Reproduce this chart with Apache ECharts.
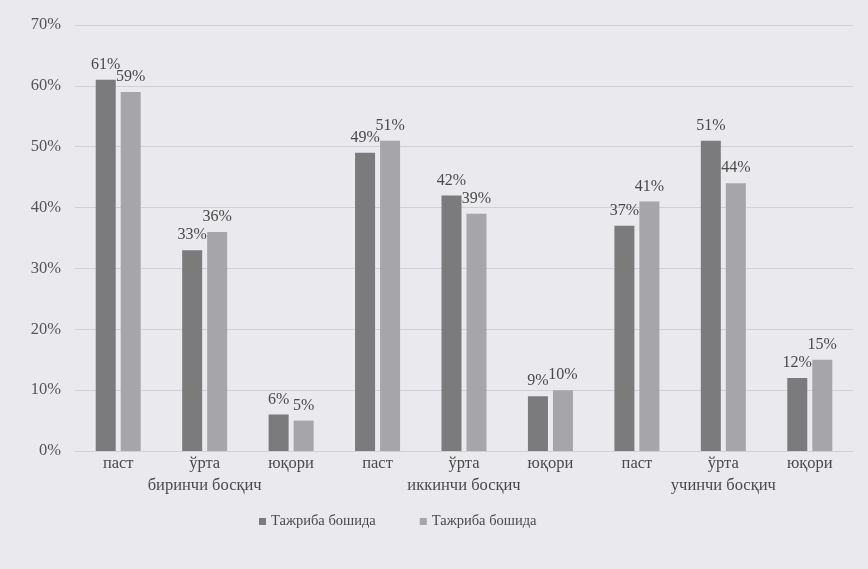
<!DOCTYPE html>
<html><head><meta charset="utf-8">
<script src="https://cdn.jsdelivr.net/npm/echarts@6/dist/echarts.min.js"></script>
<style>html,body{margin:0;padding:0;background:#e9e9ee}#c{width:868px;height:569px}</style>
</head><body><div id="c"></div>
<script>
const categories = ['паст','ўрта','юқори','паст','ўрта','юқори','паст','ўрта','юқори'];
const groups = ['биринчи босқич','иккинчи босқич','учинчи босқич'];
const seriesNames = ['Тажриба бошида','Тажриба бошида '];
const series1 = [61,33,6,49,42,9,37,51,12];
const series2 = [59,36,5,51,39,10,41,44,15];
const yTicks = [0,10,20,30,40,50,60,70];

const font = 'Liberation Serif';
const chart = echarts.init(document.getElementById('c'));
const lbl = {show:true, position:'top', formatter:'{c}%', color:'#4a4a4a', fontFamily:font, fontSize:16, distance:7};
chart.setOption({
  backgroundColor:'#e9e9ee',
  animation:false,
  grid:{left:75, right:15, top:25, bottom:118},
  legend:{
    bottom:35, left:254, itemWidth:7, itemHeight:7, itemGap:44,
    icon:'rect',
    textStyle:{fontFamily:font, fontSize:14.5, color:'#4a4a4a'},
    formatter:n=>n.trim(),
    data:seriesNames
  },
  xAxis:[
    {type:'category', data:categories, axisLine:{show:false}, axisTick:{show:false},
     axisLabel:{fontFamily:font, fontSize:16.5, color:'#4a4a4a', margin:4}},
    {type:'category', data:groups, position:'bottom', offset:22, axisLine:{show:false}, axisTick:{show:false},
     axisLabel:{fontFamily:font, fontSize:16.5, color:'#4a4a4a', margin:4}}
  ],
  yAxis:{type:'value', min:yTicks[0], max:yTicks[yTicks.length-1], interval:10,
    axisLabel:{formatter:'{value}%', fontFamily:font, fontSize:16.5, color:'#555', margin:14},
    axisLine:{show:false}, axisTick:{show:false},
    splitLine:{lineStyle:{color:'#d0d0d8', width:1}}},
  series:[
    {name:seriesNames[0], type:'bar', data:series1, barWidth:20, barGap:'25%', itemStyle:{color:'#7b7b7e'}, label:lbl},
    {name:seriesNames[1], type:'bar', data:series2, barWidth:20, itemStyle:{color:'#a6a6aa'}, label:lbl}
  ]
});
</script></body></html>
